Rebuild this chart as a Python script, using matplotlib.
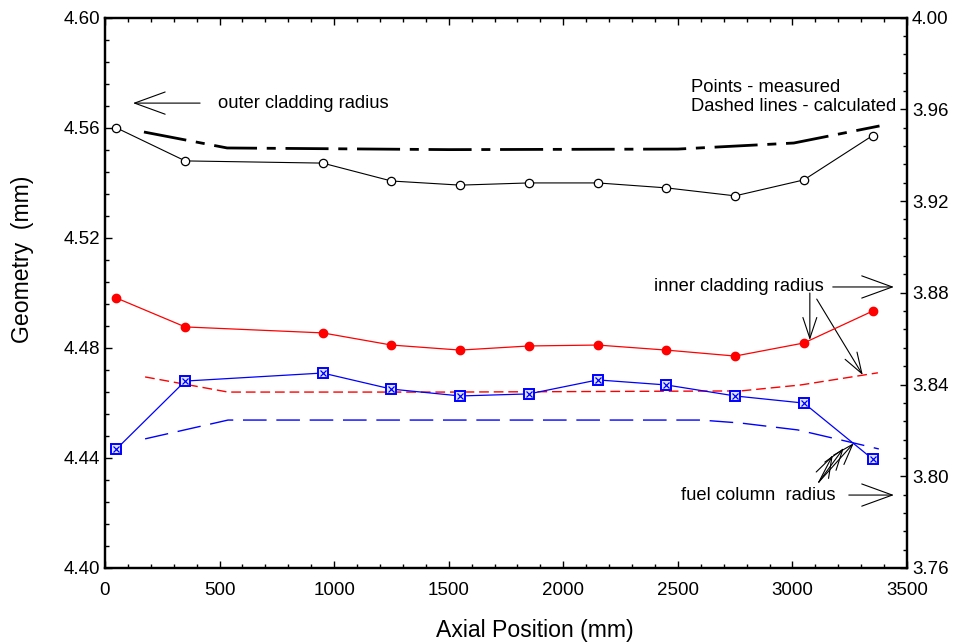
"""
Cladding / fuel geometry vs axial position, measured points and calculated lines.
"""
import matplotlib
matplotlib.use('Agg')
import matplotlib.pyplot as plt

# ==== global ==== #
plt.rcParams['font.family'] = ['Liberation Sans', 'DejaVu Sans']
plt.rcParams['lines.scale_dashes'] = False

# measured positions (mm)
POSITIONS = [50, 350, 950, 1250, 1550, 1850, 2150, 2450, 2750, 3050, 3350]

# outer cladding radius, left axis (mm)
OUTER_MEASURED = [4.5599, 4.5479, 4.5471, 4.5406, 4.5391, 4.5399, 4.5399,
                  4.5381, 4.5352, 4.5410, 4.5571]
OUTER_CALC_X = [170, 533, 1500, 2500, 3006, 3380]
OUTER_CALC = [4.5584, 4.5526, 4.5520, 4.5522, 4.5544, 4.5606]

# inner cladding radius, right axis (mm)
INNER_MEASURED = [3.8777, 3.8651, 3.8625, 3.8572, 3.8550, 3.8568, 3.8572,
                  3.8550, 3.8524, 3.8581, 3.8720]
INNER_CALC_X = [175, 537, 1500, 2774, 3036, 3373]
INNER_CALC = [3.8433, 3.8367, 3.8367, 3.8372, 3.8398, 3.8451]

# fuel column radius, right axis (mm)
FUEL_MEASURED = [3.8119, 3.8415, 3.8450, 3.8380, 3.8350, 3.8359, 3.8420,
                 3.8398, 3.8350, 3.8319, 3.8075]
FUEL_CALC_X = [175, 537, 1500, 2600, 2774, 3023, 3268, 3377]
FUEL_CALC = [3.8163, 3.8245, 3.8245, 3.8245, 3.8232, 3.8202, 3.8145, 3.8119]

LEFT_TICKS = [4.40, 4.44, 4.48, 4.52, 4.56, 4.60]
RIGHT_TICKS = [3.76, 3.80, 3.84, 3.88, 3.92, 3.96, 4.00]
X_TICKS = [0, 500, 1000, 1500, 2000, 2500, 3000, 3500]

TEXT_SIZE = 13.2


def styleAxis(axis):
    axis.tick_params(which='both', direction='in', labelsize=13.5, width=1.0)
    axis.tick_params(which='major', length=5)
    axis.tick_params(which='minor', length=3)
    for spine in axis.spines.values():
        spine.set_linewidth(1.6)


def arrow(axis, start, end, headLength=1.6, headWidth=0.6):
    axis.annotate('', xy=end, xytext=start, annotation_clip=False,
                  arrowprops=dict(arrowstyle='->,head_length=%s,head_width=%s' % (headLength, headWidth),
                                  color='black', lw=0.8, shrinkA=0, shrinkB=0,
                                  mutation_scale=10))


def main():
    fig = plt.figure(figsize=(9.59, 6.44), dpi=100)
    ax = fig.add_axes([105 / 959, 76 / 644, 802 / 959, 550.5 / 644])
    axR = ax.twinx()

    # outer cladding (left axis)
    ax.plot(OUTER_CALC_X, OUTER_CALC, color='black', lw=2.0, dashes=(31, 7, 6.5, 7))
    ax.plot(POSITIONS, OUTER_MEASURED, color='black', lw=0.8, marker='o',
            ms=6, mfc='white', mec='black', mew=0.9)

    # inner cladding and fuel column (right axis)
    axR.plot(INNER_CALC_X, INNER_CALC, color='red', lw=1.0, dashes=(7, 3.5))
    axR.plot(POSITIONS, INNER_MEASURED, color='red', lw=0.9, marker='o',
             ms=6, mfc='red', mec='red')
    axR.plot(FUEL_CALC_X, FUEL_CALC, color='blue', lw=1.0, dashes=(17, 7))
    axR.plot(POSITIONS, FUEL_MEASURED, color='blue', lw=0.9, marker='s',
             ms=6.5, mfc='#dde4ff', mec='blue', mew=1.4)
    axR.plot(POSITIONS, FUEL_MEASURED, ls='none', marker='x', ms=4,
             mec='blue', mew=0.9)

    ax.set_xlim(0, 3500)
    ax.set_ylim(4.40, 4.60)
    axR.set_ylim(3.76, 4.00)
    ax.set_xticks(X_TICKS)
    ax.set_xticks(range(0, 3501, 100), minor=True)
    ax.set_yticks(LEFT_TICKS)
    ax.set_yticks([4.40 + 0.008 * i for i in range(26)], minor=True)
    ax.set_yticklabels(['%.2f' % v for v in LEFT_TICKS])
    axR.set_yticks(RIGHT_TICKS)
    axR.set_yticks([3.76 + 0.008 * i for i in range(31)], minor=True)
    axR.set_yticklabels(['%.2f' % v for v in RIGHT_TICKS])
    ax.tick_params(axis='x', which='both', top=True)
    styleAxis(ax)
    styleAxis(axR)
    ax.tick_params(axis='x', pad=10)

    fig.text(535 / 959, 1 - 630 / 644, 'Axial Position (mm)', fontsize=16.6,
             ha='center', va='center')
    fig.text(23 / 959, 1 - 259 / 644, 'Geometry  (mm)', fontsize=16.6,
             ha='center', va='center', rotation=90)

    # annotations (left axis data coordinates)
    ax.text(494, 4.5689, 'outer cladding radius', fontsize=TEXT_SIZE, va='center')
    arrow(ax, (415, 4.5689), (122, 4.5689), 2.2, 0.8)

    ax.text(2556, 4.5744, 'Points - measured', fontsize=TEXT_SIZE, va='center')
    ax.text(2556, 4.5678, 'Dashed lines - calculated', fontsize=TEXT_SIZE, va='center')

    ax.text(2394, 4.5024, 'inner cladding radius', fontsize=TEXT_SIZE, va='center')
    arrow(ax, (3176, 4.5021), (3443, 4.5021), 2.2, 0.8)
    arrow(ax, (3076, 4.4999), (3076, 4.4828), 1.5, 0.5)
    arrow(ax, (3106, 4.4977), (3307, 4.4701), 1.5, 0.5)

    ax.text(2512, 4.4262, 'fuel column  radius', fontsize=TEXT_SIZE, va='center')
    arrow(ax, (3246, 4.4265), (3443, 4.4265), 2.2, 0.8)
    for tip in [(3176, 4.4410), (3224, 4.4436), (3268, 4.4454)]:
        arrow(ax, (3115, 4.4312), tip, 1.5, 0.5)

    fig.savefig('out.png', dpi=100)


if __name__ == '__main__':
    main()
